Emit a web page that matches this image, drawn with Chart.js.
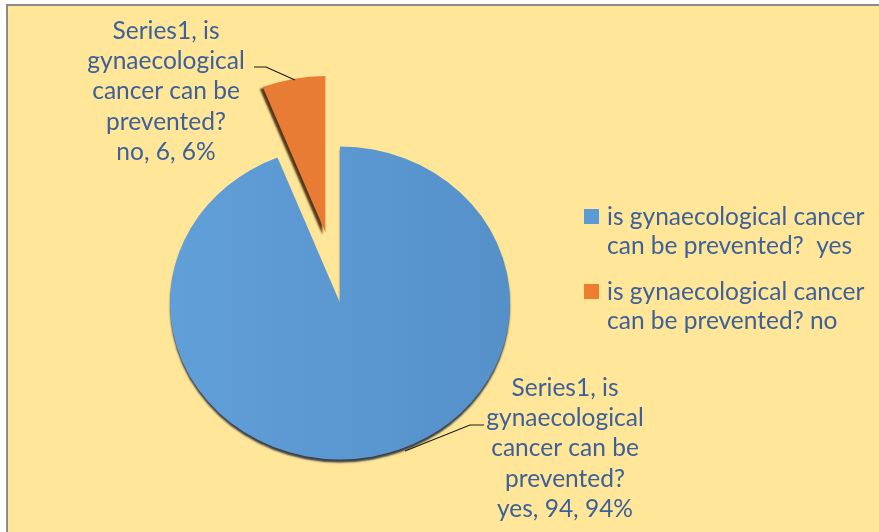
<!DOCTYPE html>
<html>
<head>
<meta charset="utf-8">
<script src="https://cdn.jsdelivr.net/npm/chart.js@4/dist/chart.umd.min.js"></script>
<style>
  html, body { margin: 0; padding: 0; background: #ffffff; }
  #wrap { position: relative; width: 879px; height: 532px; }
  canvas { display: block; }
</style>
</head>
<body>
<div id="wrap"><canvas id="c" width="879" height="532"></canvas></div>
<script>
// ---- data ----
const seriesName = 'Series1';
const question = 'is gynaecological cancer can be prevented?';
const categories = ['yes', 'no'];
const values = [94, 6];
const percents = [94, 6];
const legendLabels = [
  ['is gynaecological cancer', 'can be prevented?  yes'],
  ['is gynaecological cancer', 'can be prevented? no']
];
const dataLabelLines = [
  ['Series1, is', 'gynaecological', 'cancer can be', 'prevented?', 'yes, 94, 94%'],
  ['Series1, is', 'gynaecological', 'cancer can be', 'prevented?', 'no, 6, 6%']
];
const explode = [0, 78];

// ---- styles ----
const BG = '#FFE699';
const TXT = '#3D6098';
const FONT = 'Lato, "Liberation Sans", sans-serif';
const baseColors = ['#5B9BD5', '#ED7D31'];
const TILT = 0.92;

const bgPlugin = {
  id: 'bg',
  beforeDraw(chart) {
    const ctx = chart.ctx;
    ctx.save();
    ctx.fillStyle = '#ffffff';
    ctx.fillRect(0, 0, chart.width, chart.height);
    ctx.fillStyle = BG;
    ctx.fillRect(7, 5, chart.width - 7, chart.height - 5);
    ctx.strokeStyle = '#8a8a8a';
    ctx.lineWidth = 2;
    ctx.beginPath();
    ctx.moveTo(7, chart.height);
    ctx.lineTo(7, 5);
    ctx.lineTo(chart.width, 5);
    ctx.stroke();
    ctx.restore();
  }
};

function setShadow(ctx, dx, dy, color) {
  ctx.shadowColor = color;
  ctx.shadowOffsetX = dx;
  ctx.shadowOffsetY = dy;
  ctx.shadowBlur = 2;
}

const tiltPlugin = {
  id: 'tilt',
  beforeDatasetsDraw(chart) {
    const ctx = chart.ctx;
    const a = chart.getDatasetMeta(0).data[0];
    ctx.save();
    ctx.translate(a.x, a.y);
    ctx.scale(1, TILT);
    ctx.translate(-a.x, -a.y);
    setShadow(ctx, 0, 3, 'rgba(25,35,55,0.85)');
  },
  afterDatasetsDraw(chart) {
    const ctx = chart.ctx;
    const meta = chart.getDatasetMeta(0);
    // exploded slices: drawn by the library's arc element, moved along the slice bisector
    meta.data.forEach((arc, i) => {
      if (!explode[i]) return;
      const mid = (arc.startAngle + arc.endAngle) / 2;
      ctx.save();
      ctx.translate(Math.cos(mid) * explode[i], Math.sin(mid) * explode[i]);
      setShadow(ctx, -3, 2, 'rgba(70,35,10,0.9)');
      const orig = arc.options;
      arc.options = Object.assign({}, orig, { backgroundColor: '#E97C34' });
      arc.draw(ctx);
      arc.options = orig;
      ctx.restore();
    });
    ctx.restore();
  }
};

const labelPlugin = {
  id: 'labels',
  afterDraw(chart) {
    const ctx = chart.ctx;
    ctx.save();
    ctx.font = '24.5px ' + FONT;
    ctx.fillStyle = TXT;
    ctx.textAlign = 'center';
    ctx.textBaseline = 'middle';
    // data labels (yes, no)
    const anchors = [{x: 565, y: 388}, {x: 166, y: 31}];
    const lh = 30.2;
    dataLabelLines.forEach((lines, i) => {
      lines.forEach((t, k) => ctx.fillText(t, anchors[i].x, anchors[i].y + k * lh));
    });
    // leader lines
    ctx.strokeStyle = '#1a1a1a';
    ctx.lineWidth = 1.2;
    ctx.beginPath();
    ctx.moveTo(254, 67); ctx.lineTo(266, 67); ctx.lineTo(295, 80);
    ctx.moveTo(484, 425); ctx.lineTo(470, 425); ctx.lineTo(405, 451);
    ctx.stroke();
    // legend
    ctx.textAlign = 'left';
    const legendTop = [217, 292];
    legendLabels.forEach((lines, i) => {
      ctx.fillStyle = baseColors[i];
      ctx.fillRect(584, legendTop[i] - 8, 15, 15);
      ctx.fillStyle = TXT;
      lines.forEach((t, k) => ctx.fillText(t, 607, legendTop[i] + k * 29.5));
    });
    ctx.restore();
  }
};

function sliceColor(c) {
  const i = c.dataIndex;
  if (explode[i]) return 'rgba(0,0,0,0)';
  const g = c.chart.ctx.createLinearGradient(170, 0, 510, 0);
  g.addColorStop(0, '#619FD8');
  g.addColorStop(1, '#5590C9');
  return g;
}

new Chart(document.getElementById('c'), {
  type: 'pie',
  data: {
    labels: categories.map(c => question + ' ' + c),
    datasets: [{
      label: seriesName,
      data: values,
      backgroundColor: sliceColor,
      borderWidth: 0,
      clip: false
    }]
  },
  options: {
    responsive: false,
    animation: false,
    radius: 170,
    layout: { padding: { left: 0, right: 199, top: 74, bottom: 0 } },
    plugins: {
      legend: { display: false },
      tooltip: { enabled: false }
    },
    events: []
  },
  plugins: [bgPlugin, tiltPlugin, labelPlugin]
});
</script>
</body>
</html>
